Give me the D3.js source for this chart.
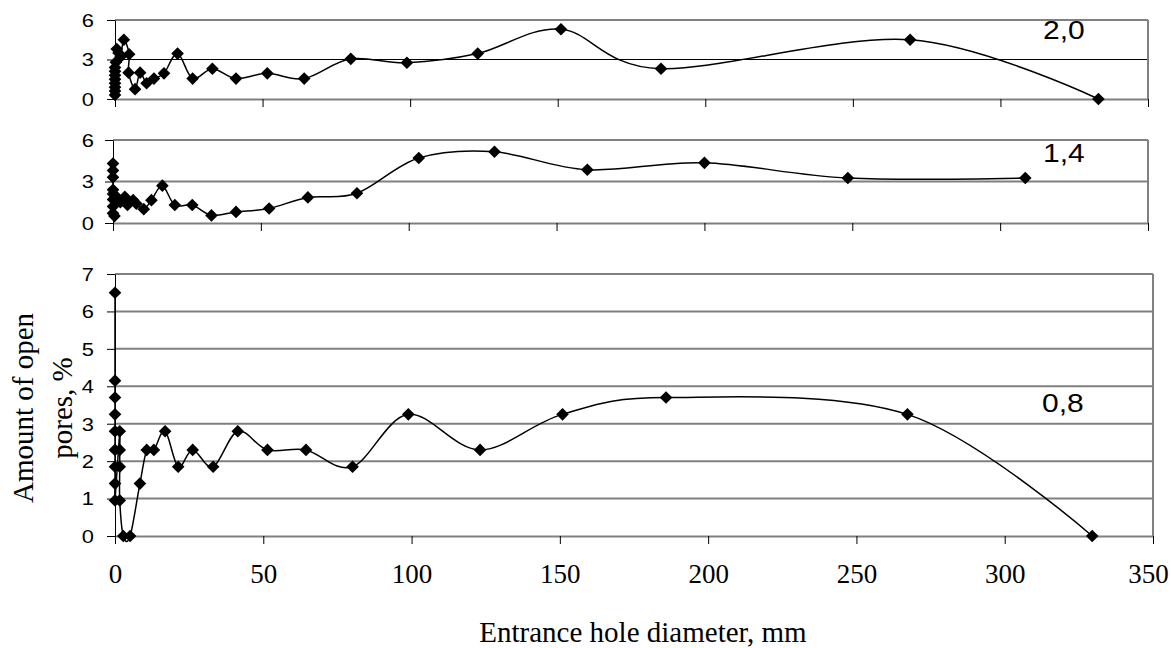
<!DOCTYPE html>
<html>
<head>
<meta charset="utf-8">
<script src="https://cdn.jsdelivr.net/npm/d3@7"></script>
<style>
body { margin: 0; background: #fff; }
</style>
</head>
<body>
<div id="chart"></div>
<script>
// x ticks shared by all panels
var xTicks = [0, 50, 100, 150, 200, 250, 300, 350];
var smallTicks = [0, 3, 6];
var bigTicks = [0, 1, 2, 3, 4, 5, 6, 7];

// series "2,0" (top)
var topX = [0, 0, 0, 0, 0, 0, 0, 0, 0.3, 0.6, 1.2, 1.9, 3.0, 4.8, 4.6, 6.8, 8.5, 10.7, 13.2, 16.6, 21.2, 26.3, 33.0, 41.0, 51.6, 64.1, 79.9, 98.9, 122.9, 151.1, 185.0, 269.4, 333.2];
var topY = [0.3, 0.6, 0.9, 1.2, 1.5, 1.8, 2.1, 2.4, 2.8, 3.8, 3.5, 3.2, 4.5, 3.4, 2.0, 0.75, 2.0, 1.2, 1.55, 1.95, 3.45, 1.55, 2.3, 1.55, 1.95, 1.55, 3.05, 2.75, 3.45, 5.3, 2.3, 4.5, 0];

// series "1,4" (middle)
var midX = [0, 0, 0, 0, 0, 0, 0, 0, 0.5, 1.2, 2.5, 4.0, 4.9, 6.8, 7.9, 10.4, 13.0, 16.7, 20.9, 26.8, 33.3, 41.6, 52.8, 65.9, 82.5, 103.4, 129.0, 160.4, 200.0, 248.5, 308.5];
var midY = [4.3, 3.8, 3.3, 2.4, 2.1, 1.7, 1.2, 0.7, 0.5, 1.9, 1.5, 1.9, 1.3, 1.65, 1.4, 1.0, 1.65, 2.7, 1.3, 1.3, 0.55, 0.8, 1.05, 1.85, 2.15, 4.7, 5.15, 3.85, 4.35, 3.25, 3.25];

// series "0,8" (bottom)
var botX = [0, 0, 0, 0, 0, 0, 0, 0, 0, 1.6, 1.6, 1.6, 1.6, 2.8, 5.1, 8.4, 10.7, 13.1, 16.9, 21.3, 26.2, 33.1, 41.4, 51.4, 64.4, 80.1, 98.9, 123.1, 150.9, 185.8, 267.2, 329.5];
var botY = [6.5, 4.15, 3.7, 3.25, 2.8, 2.3, 1.85, 1.4, 0.95, 2.8, 2.3, 1.85, 0.95, 0, 0, 1.4, 2.3, 2.3, 2.8, 1.85, 2.3, 1.85, 2.8, 2.3, 2.3, 1.85, 3.25, 2.3, 3.25, 3.7, 3.25, 0];

var width = 1171, height = 648;
var sans = "'Liberation Sans', Arial, sans-serif";
var serif = "'Liberation Serif', 'Times New Roman', serif";
var grey = "#808080";

var svg = d3.select("#chart")
  .append("svg")
  .attr("width", width)
  .attr("height", height)
  .style("background", "#fff");

// Panel-Layout
var panels = [
  { xs: topX, ys: topY, name: "2,0", left: 115, right: 1148, top: 20, bottom: 99, ymax: 6, ticks: smallTicks, blackGrid: [3], lx: 1043, ly: 39, labels: false },
  { xs: midX, ys: midY, name: "1,4", left: 113, right: 1148, top: 140, bottom: 223, ymax: 6, ticks: smallTicks, blackGrid: [], lx: 1043, ly: 162, labels: false },
  { xs: botX, ys: botY, name: "0,8", left: 115, right: 1153, top: 274, bottom: 536, ymax: 7, ticks: bigTicks, blackGrid: [], lx: 1042, ly: 412, labels: true }
];

panels.forEach(draw_panel);

function draw_panel(p) {
  var x = d3.scaleLinear().domain([0, 350]).range([p.left, p.right]);
  var y = d3.scaleLinear().domain([0, p.ymax]).range([p.bottom, p.top]);
  var g = svg.append("g");

  // gridlines
  g.selectAll(".grid")
    .data(p.ticks.filter(function(d){ return d > 0 }))
    .enter()
    .append("line")
      .attr("x1", p.left).attr("x2", p.right)
      .attr("y1", function(d){ return y(d) })
      .attr("y2", function(d){ return y(d) })
      .attr("stroke", function(d){ return p.blackGrid.indexOf(d) >= 0 ? "#000" : grey })
      .attr("stroke-width", function(d){ return p.blackGrid.indexOf(d) >= 0 ? 1 : 2 });

  // right border
  g.append("line")
    .attr("x1", p.right).attr("x2", p.right)
    .attr("y1", p.top).attr("y2", p.bottom)
    .attr("stroke", grey).attr("stroke-width", 2);

  // x axis
  var xAxis = d3.axisBottom(x).tickValues(xTicks).tickSize(8).tickSizeOuter(0).tickFormat(d3.format("d"));
  if (!p.labels) xAxis.tickFormat("");
  var xg = g.append("g").attr("transform", "translate(0," + p.bottom + ")").call(xAxis);
  xg.select(".domain").attr("stroke", grey).attr("stroke-width", 2);
  xg.selectAll(".tick line").attr("stroke", "#000");
  xg.selectAll("text")
    .attr("y", 47).attr("dy", 0)
    .attr("dx", function(d){ return d === 350 ? -5 : 0 })
    .style("font-family", serif).style("font-size", "27px").attr("fill", "#000");

  // y axis
  var yAxis = d3.axisLeft(y).tickValues(p.ticks).tickSize(8).tickSizeOuter(0).tickFormat(d3.format("d"));
  var yg = g.append("g").attr("transform", "translate(" + p.left + ",0)").call(yAxis);
  yg.select(".domain").attr("stroke", "#000").attr("stroke-width", 1);
  yg.selectAll(".tick line").attr("stroke", "#000");
  yg.selectAll("text")
    .attr("x", (94 - p.left) / 1.25)
    .attr("dy", "0.36em")
    .attr("transform", "scale(1.25,1)")
    .style("font-family", sans).style("font-size", "17.5px").attr("fill", "#000");

  // series
  var pts = p.xs.map(function(v, i){ return [v, p.ys[i]] });
  var line = d3.line()
    .x(function(d){ return x(d[0]) })
    .y(function(d){ return y(d[1]) })
    .curve(d3.curveCatmullRom.alpha(0));
  g.append("path")
    .datum(pts)
    .attr("d", line)
    .attr("fill", "none")
    .attr("stroke", "#000")
    .attr("stroke-width", 1.5);

  g.selectAll(".marker")
    .data(pts)
    .enter()
    .append("path")
      .attr("d", d3.symbol(d3.symbolSquare, 80))
      .attr("transform", function(d){ return "translate(" + x(d[0]) + "," + y(d[1]) + ") rotate(45)" })
      .attr("fill", "#000");

  // series name
  g.append("text")
    .attr("transform", "translate(" + p.lx + "," + p.ly + ") scale(1.2,1)")
    .text(p.name)
    .style("font-family", sans).style("font-size", "25px").attr("fill", "#000");
}

// axis titles
svg.append("text")
  .attr("transform", "translate(33,408) rotate(-90)")
  .attr("text-anchor", "middle")
  .text("Amount of open")
  .style("font-family", serif).style("font-size", "29px");
svg.append("text")
  .attr("transform", "translate(72,408) rotate(-90)")
  .attr("text-anchor", "middle")
  .text("pores, %")
  .style("font-family", serif).style("font-size", "29px");

svg.append("text")
  .attr("x", 643).attr("y", 642)
  .attr("text-anchor", "middle")
  .text("Entrance hole diameter, mm")
  .style("font-family", serif).style("font-size", "29px");
</script>
</body>
</html>
